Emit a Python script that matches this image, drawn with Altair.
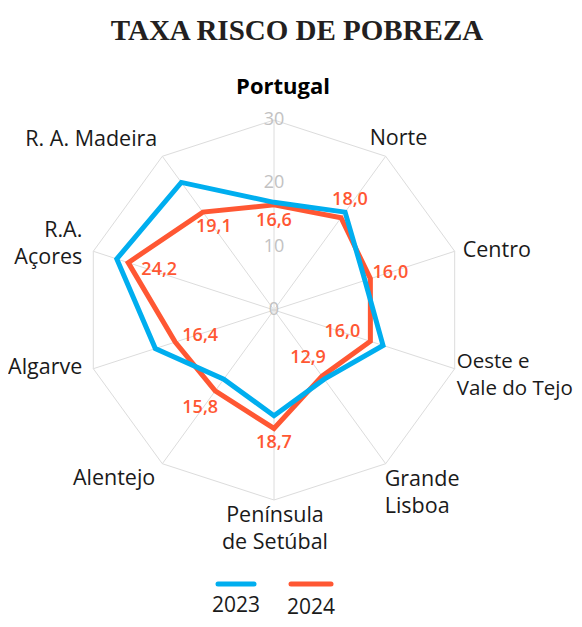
import altair as alt
import pandas as pd

# ---------------- data ----------------
title_text = "TAXA RISCO DE POBREZA"
categories = ["Portugal", "Norte", "Centro", "Oeste e Vale do Tejo", "Grande Lisboa",
              "Península de Setúbal", "Alentejo", "Algarve", "R.A. Açores", "R. A. Madeira"]
labels = ["Portugal", "Norte", "Centro", "Oeste e\nVale do Tejo", "Grande\nLisboa",
          "Península\nde Setúbal", "Alentejo", "Algarve", "R.A.\nAçores", "R. A. Madeira"]
series = ["2023", "2024"]
values_2023 = [17.0, 19.1, 15.1, 18.1, 13.5, 16.7, 13.5, 19.7, 26.1, 24.9]
values_2024 = [16.6, 18.0, 16.0, 16.0, 12.9, 18.7, 15.8, 16.4, 24.2, 19.1]
axis_ticks = [0, 10, 20, 30]

# ---------------- styling / layout ----------------
colors = {"2023": "#00AEEF", "2024": "#FF5733"}
FONT = "Open Sans"
W, H = 566, 611
cx, cy = 266, 302
R_MAX = 30
k = 190 / R_MAX
xs = alt.Scale(domain=[-cx / k, (W - cx) / k], nice=False, zero=False)
ys = alt.Scale(domain=[-(H - cy) / k, cy / k], nice=False, zero=False)
n = len(categories)

# category label placement: (align, dx, dy, size) relative to outer vertex
cat_layout = {
    "Portugal": ("center", 9, -26, 22),
    "Norte": ("left", -16, -11, 21.5),
    "Centro": ("left", 8, 6, 21.5),
    "Oeste e Vale do Tejo": ("left", 2, -1, 20.5),
    "Grande Lisboa": ("left", -1, 22, 21.5),
    "Península de Setúbal": ("center", 1, 22, 21.5),
    "Alentejo": ("right", -7, 21, 21.5),
    "Algarve": ("right", -11, 5, 21.5),
    "R.A. Açores": ("right", -11, -14, 21.5),
    "R. A. Madeira": ("right", -5, -10, 21.5),
}
# value label placement (dx, dy) relative to 2024 point
val_layout = {
    "Portugal": (0, 21),
    "Norte": (9, -13),
    "Centro": (20, -1),
    "Oeste e Vale do Tejo": (-28, -4),
    "Grande Lisboa": (-14, -13),
    "Península de Setúbal": (0, 20),
    "Alentejo": (-15, 22),
    "Algarve": (25, -1),
    "R.A. Açores": (31, 12),
    "R. A. Madeira": (11, 20),
}

# ---------------- tables ----------------
rows = []
for s, vals in zip(series, [values_2023, values_2024]):
    for i, (c, v) in enumerate(zip(categories, vals)):
        rows.append(dict(series=s, category=c, idx=i, value=v))
    rows.append(dict(series=s, category=categories[0], idx=n, value=vals[0]))
df = pd.DataFrame(rows)

grid_rows = [dict(category=c, label=l, idx=i, r=R_MAX) for i, (c, l) in enumerate(zip(categories, labels))]
grid_rows.append(dict(category=categories[0], label=labels[0], idx=n, r=R_MAX))
grid_df = pd.DataFrame(grid_rows)

tick_df = pd.DataFrame({"t": axis_ticks})

ang = f"datum.idx * 2 * PI / {n}"
X = alt.X("px:Q", scale=xs, axis=None)
Y = alt.Y("py:Q", scale=ys, axis=None)

layers = []

# grid polygon
grid_base = alt.Chart(grid_df).transform_calculate(
    px=f"datum.r * sin({ang})", py=f"datum.r * cos({ang})", zero="0"
)
layers.append(grid_base.mark_line(color="#dcdcdc", strokeWidth=1).encode(
    x=X, y=Y, order=alt.Order("idx:Q")))
layers.append(grid_base.transform_filter(f"datum.idx < {n}").mark_rule(
    color="#dcdcdc", strokeWidth=1).encode(
    x=alt.X("zero:Q", scale=xs, axis=None), y=alt.Y("zero:Q", scale=ys, axis=None),
    x2="px:Q", y2="py:Q"))

# tick labels
layers.append(alt.Chart(tick_df).transform_calculate(px="0", py="datum.t").mark_text(
    font=FONT, fontSize=18, color="#c2c2c2", align="center", baseline="middle"
).encode(x=X, y=Y, text="t:Q"))

# series lines (2024 below, 2023 on top)
for s in ["2024", "2023"]:
    layers.append(alt.Chart(df).transform_filter(alt.datum.series == s).transform_calculate(
        px=f"datum.value * sin({ang})", py=f"datum.value * cos({ang})"
    ).mark_line(color=colors[s], strokeWidth=5, strokeJoin="miter").encode(
        x=X, y=Y, order=alt.Order("idx:Q")))

# value labels for 2024
for c in categories:
    dx, dy = val_layout[c]
    layers.append(alt.Chart(df).transform_filter(
        (alt.datum.series == "2024") & (alt.datum.category == c) & (alt.datum.idx < n)
    ).transform_calculate(
        px=f"datum.value * sin({ang})", py=f"datum.value * cos({ang})",
        lbl="replace(format(datum.value, '.1f'), '.', ',')"
    ).mark_text(font=FONT, fontSize=18, fontWeight=600, color=colors["2024"],
                align="center", baseline="alphabetic", dx=dx, dy=dy
    ).encode(x=X, y=Y, text="lbl:N"))

# category labels
for c in categories:
    align, dx, dy, size = cat_layout[c]
    bold = c == "Portugal"
    layers.append(grid_base.transform_filter(
        (alt.datum.category == c) & (alt.datum.idx < n)
    ).mark_text(font=FONT, fontSize=size, fontWeight=700 if bold else 400,
                color="#000000" if bold else "#1a1a1a",
                align=align, baseline="alphabetic", dx=dx, dy=dy, lineBreak="\n",
                lineHeight=27
    ).encode(x=X, y=Y, text="label:N"))

# title
layers.append(alt.Chart(alt.Data(values=[{"t": title_text}])).mark_text(
    font="Liberation Serif", fontSize=29, fontWeight="bold", color="#231f20",
    align="center", baseline="alphabetic"
).encode(x=alt.value(289), y=alt.value(32), text="t:N"))

# legend (symbol above label)
legend_pos = {"2023": (210, 246, 228, 604), "2024": (283, 323, 303, 606)}
for s in series:
    x1, x2, xt, yt = legend_pos[s]
    ld = alt.Data(values=[{"series": s}])
    layers.append(alt.Chart(ld).mark_rule(color=colors[s], strokeWidth=5, strokeCap="round").encode(
        x=alt.value(x1), x2=alt.value(x2), y=alt.value(576)))
    layers.append(alt.Chart(ld).mark_text(font=FONT, fontSize=21, color="#1a1a1a",
                                          align="center", baseline="alphabetic").encode(
        x=alt.value(xt), y=alt.value(yt), text="series:N"))

chart = alt.layer(*layers).properties(
    width=W, height=H, padding=0, autosize=alt.AutoSizeParams(type="none")
).configure_view(stroke=None)

chart.save("out.html", embed_options={"renderer": "svg", "actions": False})
